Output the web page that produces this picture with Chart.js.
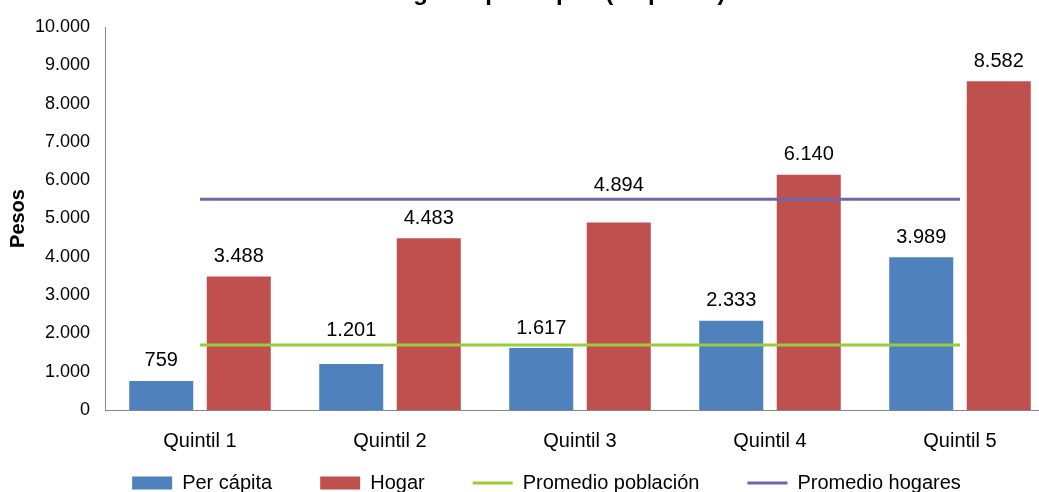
<!DOCTYPE html>
<html>
<head>
<meta charset="utf-8">
<script src="https://cdn.jsdelivr.net/npm/chart.js@4/dist/chart.umd.min.js"></script>
<style>
  html, body { margin: 0; padding: 0; overflow: hidden; background: #fff; width: 1039px; height: 492px; }
  #wrap { position: absolute; left: 0; top: -40px; width: 1088px; height: 581px; }
</style>
</head>
<body>
<div id="wrap"><canvas id="c"></canvas></div>
<script>
const titleText = 'El ingreso per cápita (en pesos)';
const categories = ['Quintil 1', 'Quintil 2', 'Quintil 3', 'Quintil 4', 'Quintil 5'];
const perCapita = [759, 1201, 1617, 2333, 3989];
const hogar = [3488, 4483, 4894, 6140, 8582];
const promedioPoblacion = [1700, 1700, 1700, 1700, 1700];
const promedioHogares = [5500, 5500, 5500, 5500, 5500];
const yTicks = [0, 1000, 2000, 3000, 4000, 5000, 6000, 7000, 8000, 9000, 10000];

const FONT = '"Liberation Sans", Arial, Helvetica, sans-serif';
const fmt = v => String(v).replace(/\B(?=(\d{3})+(?!\d))/g, '.');

const titlePlugin = {
  id: 'topTitle',
  afterDraw(chart) {
    const ctx = chart.ctx;
    ctx.save();
    ctx.font = 'bold 24px ' + FONT;
    ctx.fillStyle = '#000';
    ctx.textAlign = 'center';
    ctx.textBaseline = 'alphabetic';
    ctx.fillText(titleText, chart.width / 2, 40);
    ctx.restore();
  }
};

const labelPlugin = {
  id: 'barLabels',
  afterDatasetsDraw(chart) {
    const ctx = chart.ctx;
    ctx.save();
    ctx.font = '20px ' + FONT;
    ctx.fillStyle = '#000';
    ctx.textAlign = 'center';
    ctx.textBaseline = 'middle';
    [0, 1].forEach(di => {
      const meta = chart.getDatasetMeta(di);
      const data = chart.data.datasets[di].data;
      meta.data.forEach((bar, i) => {
        let off = 20;
        if (di === 1 && i === 2) off = 37;
        if (di === 0 && i === 1) off = 34;
        ctx.fillText(fmt(data[i]), bar.x, bar.y - off);
      });
    });
    ctx.restore();
  }
};

const legendShift = {
  id: 'legendShift',
  afterLayout(chart) {
    const l = chart.legend;
    if (l) {
      const dy = (chart.chartArea.bottom + 15) - l.top;
      l.left += 19; l.right += 19;
      l.top += dy; l.bottom += dy;
    }
  }
};

new Chart(document.getElementById('c'), {
  data: {
    labels: categories,
    datasets: [
      { type: 'bar', label: 'Per cápita', data: perCapita, backgroundColor: '#4F81BD', borderWidth: 0, order: 2,
        categoryPercentage: 0.816, barPercentage: 0.826, pointStyle: 'rect' },
      { type: 'bar', label: 'Hogar', data: hogar, backgroundColor: '#C0504D', borderWidth: 0, order: 2,
        categoryPercentage: 0.816, barPercentage: 0.826, pointStyle: 'rect' },
      { type: 'line', label: 'Promedio población', data: promedioPoblacion, borderColor: '#99CC3A', backgroundColor: '#99CC3A',
        borderWidth: 3, pointRadius: 0, pointHoverRadius: 0, order: 1, pointStyle: 'line' },
      { type: 'line', label: 'Promedio hogares', data: promedioHogares, borderColor: '#6A69A8', backgroundColor: '#6A69A8',
        borderWidth: 3, pointRadius: 0, pointHoverRadius: 0, order: 1, pointStyle: 'line' }
    ]
  },
  options: {
    responsive: true,
    maintainAspectRatio: false,
    animation: false,
    events: [],
    layout: { padding: { top: 67, right: 33, bottom: 0, left: 0 } },
    scales: {
      x: {
        type: 'category',
        offset: true,
        grid: { display: false, drawTicks: false },
        border: { display: true, color: '#868686', width: 1 },
        ticks: { color: '#000', font: { family: FONT, size: 20 }, padding: 19, maxRotation: 0, autoSkip: false },
        afterFit: s => { s.height = 53; }
      },
      y: {
        min: 0, max: 10000,
        afterBuildTicks: s => { s.ticks = yTicks.map(v => ({ value: v })); },
        grid: { display: false, drawTicks: false },
        border: { display: true, color: '#868686', width: 1 },
        ticks: { color: '#000', font: { family: FONT, size: 18 }, padding: 15, callback: v => fmt(v) },
        title: { display: true, text: 'Pesos', color: '#000', font: { family: FONT, size: 20, weight: 'bold' }, padding: { top: 6, bottom: 0 } },
        afterFit: s => { s.width = 105; }
      }
    },
    plugins: {
      title: { display: false },
      tooltip: { enabled: false },
      legend: {
        position: 'bottom',
        labels: {
          usePointStyle: true,
          pointStyleWidth: 40,
          boxHeight: 13,
          padding: 48,
          color: '#000',
          font: { family: FONT, size: 20 },
          sort: (a, b) => a.datasetIndex - b.datasetIndex
        }
      }
    }
  },
  plugins: [titlePlugin, labelPlugin, legendShift]
});
</script>
</body>
</html>
